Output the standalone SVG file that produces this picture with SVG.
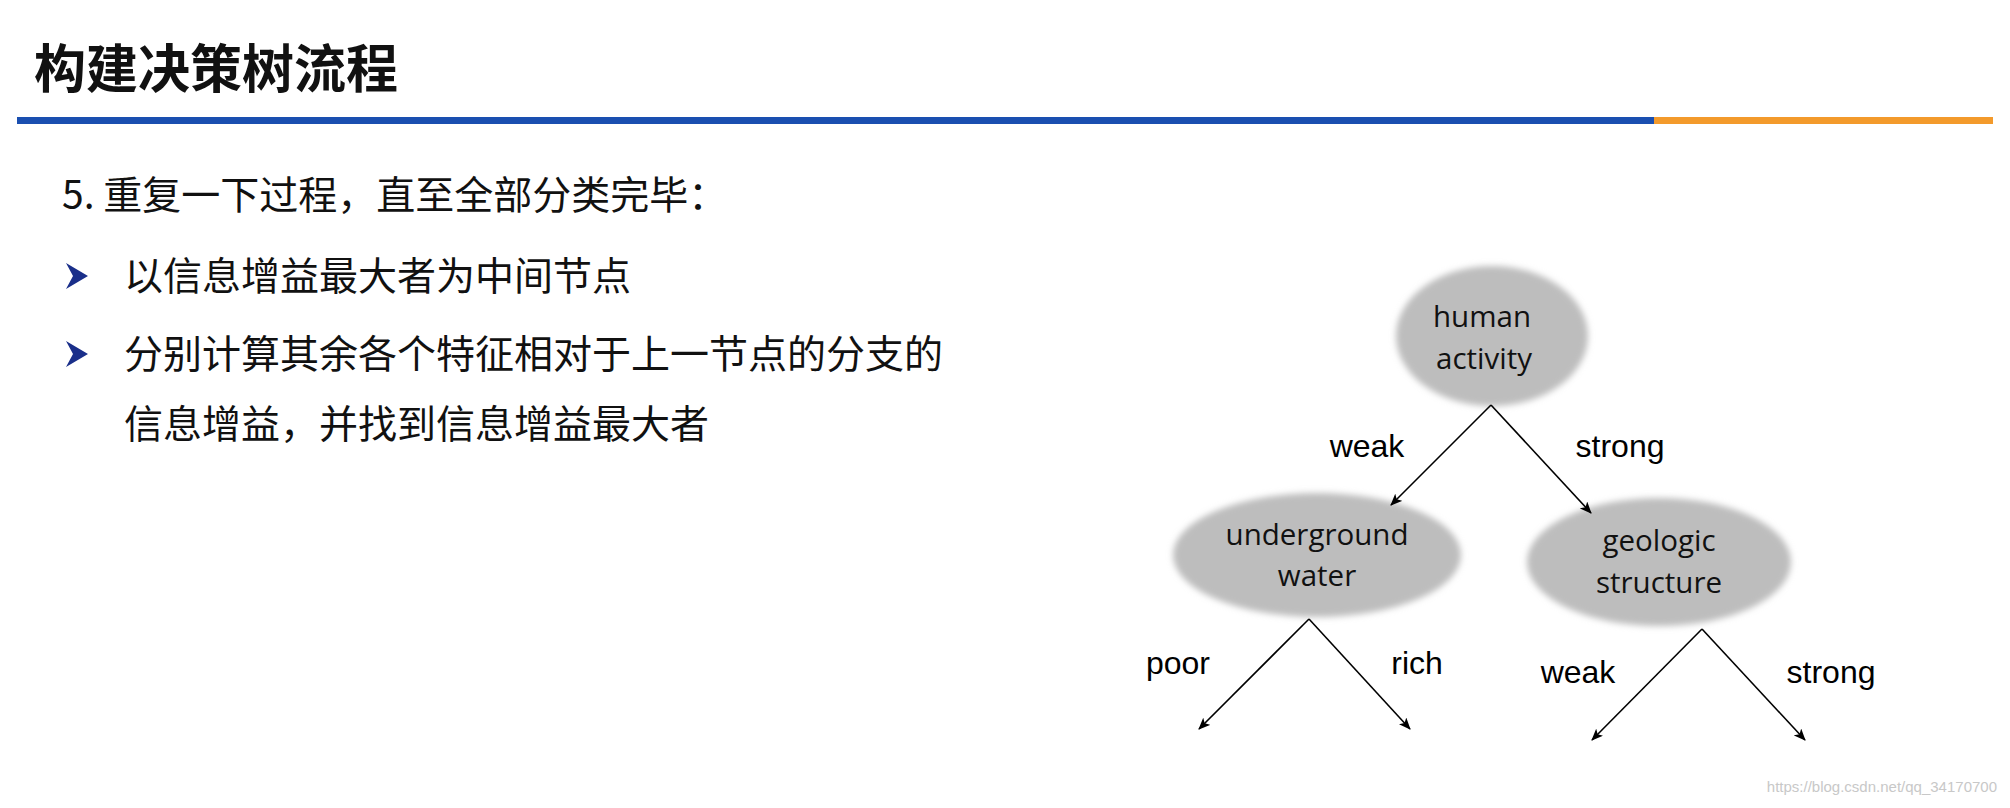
<svg xmlns="http://www.w3.org/2000/svg" width="2010" height="808" viewBox="0 0 2010 808">
<style>
.t{font-family:"Noto Sans CJK SC","Noto Sans",sans-serif;fill:#111}
.n{font-family:"Open Sans","Noto Sans",sans-serif;font-size:29.5px;fill:#111;text-anchor:middle}
.l{font-family:"Liberation Sans",Arial,sans-serif;font-size:32px;fill:#000;text-anchor:middle}
.c{stroke:#000;stroke-width:1.6;fill:none;marker-end:url(#a)}
.e{fill:#bdbdbd;filter:url(#b)}
</style>
<defs>
<marker id="a" markerWidth="12" markerHeight="10" refX="11" refY="5" orient="auto" markerUnits="userSpaceOnUse"><path d="M0,0 L12,5 L0,10 L3,5 Z" fill="#000"/></marker>
<filter id="b" x="-10%" y="-10%" width="120%" height="120%"><feGaussianBlur stdDeviation="3"/></filter>
</defs>
<rect width="2010" height="808" fill="#fff"/>
<text x="34" y="88" class="t" font-size="52" font-weight="bold">构建决策树流程</text>
<rect x="17" y="117" width="1637" height="7" fill="#1a4fb0"/>
<rect x="1654" y="117" width="339" height="7" fill="#f39a2b"/>
<text x="62" y="209" class="t" font-size="39">5. 重复一下过程，直至全部分类完毕：</text>
<path d="M66,263 L88,276 L66,289 L73,276 Z" fill="#1a2f8a"/>
<text x="124" y="290" class="t" font-size="39">以信息增益最大者为中间节点</text>
<path d="M66,341 L88,354 L66,367 L73,354 Z" fill="#1a2f8a"/>
<text x="124" y="368" class="t" font-size="39">分别计算其余各个特征相对于上一节点的分支的</text>
<text x="124" y="438" class="t" font-size="39">信息增益，并找到信息增益最大者</text>
<g id="n-human">
<ellipse class="e" cx="1492" cy="336" rx="96" ry="70"/>
<text class="n" x="1482" y="327">human</text>
<text class="n" x="1484" y="369">activity</text>
</g>
<g id="n-water">
<ellipse class="e" cx="1317" cy="555" rx="144" ry="62"/>
<text class="n" x="1317" y="545">underground</text>
<text class="n" x="1317" y="586">water</text>
</g>
<g id="n-geo">
<ellipse class="e" cx="1659" cy="562" rx="132" ry="64"/>
<text class="n" x="1659" y="551">geologic</text>
<text class="n" x="1659" y="593">structure</text>
</g>
<g id="connectors">
<line class="c" x1="1491" y1="405" x2="1391" y2="505"/>
<line class="c" x1="1491" y1="405" x2="1591" y2="513"/>
<line class="c" x1="1309" y1="619" x2="1199" y2="729"/>
<line class="c" x1="1309" y1="619" x2="1410" y2="729"/>
<line class="c" x1="1702" y1="629" x2="1592" y2="740"/>
<line class="c" x1="1702" y1="629" x2="1805" y2="740"/>
<text class="l" x="1367" y="457">weak</text>
<text class="l" x="1620" y="457">strong</text>
<text class="l" x="1178" y="674">poor</text>
<text class="l" x="1417" y="674">rich</text>
<text class="l" x="1578" y="683">weak</text>
<text class="l" x="1831" y="683">strong</text>
</g>
<text x="1997" y="792" font-family="Liberation Sans,sans-serif" font-size="15" fill="#c8c8c8" text-anchor="end">https://blog.csdn.net/qq_34170700</text>
</svg>
